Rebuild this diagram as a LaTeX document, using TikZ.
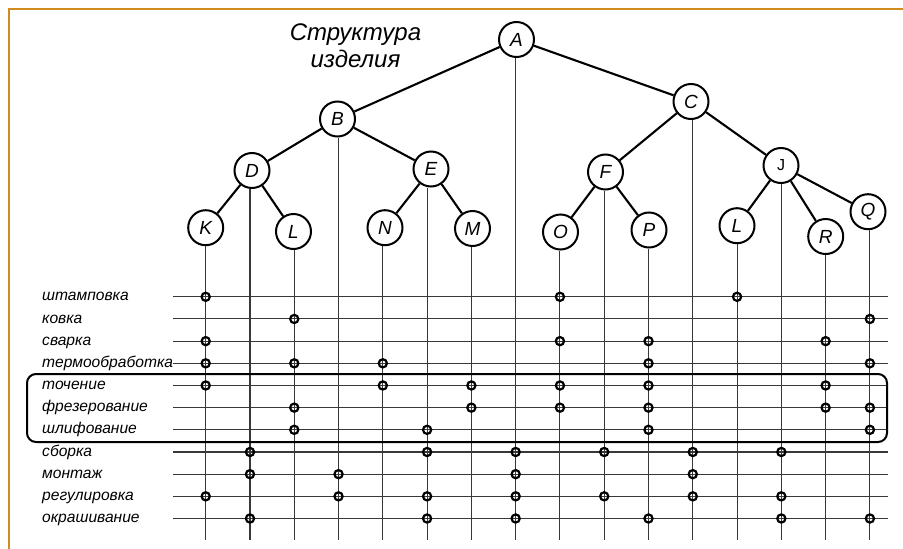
\documentclass[tikz,border=0pt]{standalone}
\usepackage{fontspec}
\setmainfont{Liberation Sans}
\definecolor{framec}{RGB}{208,140,32}
\begin{document}
\begin{tikzpicture}[x=1pt,y=-1pt,
  tnode/.style={circle, draw, line width=2pt, minimum size=35pt, inner sep=0pt, fill=white,
    font=\fontsize{19}{19}\selectfont\itshape},
  jnode/.style={tnode, font=\fontsize{16}{16}\selectfont\upshape},
  edge/.style={line width=2.1pt},
  gridline/.style={line width=1.05pt, black!78},
  marker/.style={circle, draw, line width=2.2pt, minimum size=8.2pt, inner sep=0pt},
  lbl/.style={anchor=base west, inner sep=0pt, font=\fontsize{15.6}{15.6}\selectfont\itshape},
  titlefont/.style={font=\fontsize{24}{27}\selectfont\itshape}]
\useasboundingbox (0,0) rectangle (903,549);
% frame (top and left edges)
\coordinate (fbl) at (8.5,549);
\coordinate (ftl) at (8.5,8.5);
\coordinate (ftr) at (903,8.5);
\draw[framec, line width=2pt] (fbl) -- (ftl) -- (ftr);
% title
\node[titlefont, align=center, anchor=base, inner sep=0pt] (title) at (355.5,67) {Структура\\изделия};
% tree nodes
\node[tnode] (A) at (516.5,39.5) {A};
\node[tnode] (B) at (337.5,119) {B};
\node[tnode] (C) at (691,101.5) {C};
\node[tnode] (D) at (252,170.5) {D};
\node[tnode] (E) at (431,169) {E};
\node[tnode] (F) at (605.5,172) {F};
\node[jnode] (J) at (781,165.5) {J};
\node[tnode] (K) at (205.7,227.7) {K};
\node[tnode] (L) at (293.5,231.5) {L};
\node[tnode] (N) at (385,227.7) {N};
\node[tnode] (M) at (472.5,228.5) {M};
\node[tnode] (O) at (560.5,232) {O};
\node[tnode] (P) at (649,230) {P};
\node[tnode] (L2) at (737,225.7) {L};
\node[tnode] (R) at (825.7,236.5) {R};
\node[tnode] (Q) at (868,211.7) {Q};
% tree edges
\foreach \p/\c in {A/B,A/C,B/D,B/E,D/K,D/L,E/N,E/M,C/F,C/J,F/O,F/P,J/L2,J/R,J/Q}
  \draw[edge] (\p) -- (\c);
% column bottoms and vertical lines
\foreach \n [count=\i from 0] in {K,D,L,B,N,E,M,A,O,F,P,C,L2,J,R,Q} {
  \coordinate (c\n) at ({205.7+44.28*\i},540);
  \draw[gridline] (c\n |- \n.south) -- (c\n);
}
% rows
\foreach \lab [count=\j from 0] in {штамповка,ковка,сварка,термообработка,точение,фрезерование,шлифование,сборка,монтаж,регулировка,окрашивание} {
  \coordinate (r\j) at (0,{296.8+22.17*\j});
  \coordinate (hs\j) at (173,{296.8+22.17*\j});
  \coordinate (he\j) at (888,{296.8+22.17*\j});
  \draw[gridline] (hs\j) -- (he\j);
  \node[lbl] (lab\j) at (42,{296.8+22.17*\j+4.1}) {\lab};
}
% markers
\foreach \r/\c in {0/K,0/O,0/L2,
  1/L,1/Q,
  2/K,2/O,2/P,2/R,
  3/K,3/L,3/N,3/P,3/Q,
  4/K,4/N,4/M,4/O,4/P,4/R,
  5/L,5/M,5/O,5/P,5/R,5/Q,
  6/L,6/E,6/P,6/Q,
  7/D,7/E,7/A,7/F,7/C,7/J,
  8/D,8/B,8/A,8/C,
  9/K,9/B,9/E,9/A,9/F,9/C,9/J,
  10/D,10/E,10/A,10/P,10/J,10/Q}
  \node[marker] (m\r\c) at (c\c |- r\r) {};
% machining group box
\node[draw, line width=2pt, rounded corners=9pt, minimum width=860pt, minimum height=68pt, inner sep=0pt] (group) at (457,408) {};
\end{tikzpicture}
\end{document}
